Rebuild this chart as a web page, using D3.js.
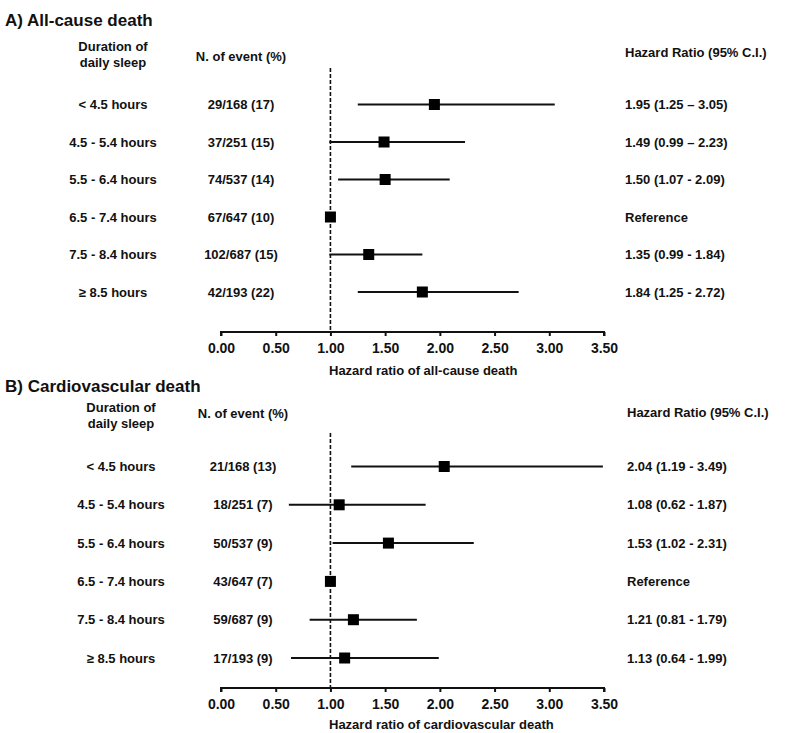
<!DOCTYPE html>
<html><head><meta charset="utf-8">
<script src="https://cdn.jsdelivr.net/npm/d3@7"></script>
<style>
html,body{margin:0;padding:0;background:#fff;}
svg text{font-family:"Liberation Sans",Arial,sans-serif;font-weight:bold;fill:#111;}
</style></head>
<body>
<svg id="chart" width="800" height="733"></svg>
<script>
const sleepCats = ["< 4.5 hours","4.5 - 5.4 hours","5.5 - 6.4 hours","6.5 - 7.4 hours","7.5 - 8.4 hours","≥ 8.5 hours"];
const tickValues = [0,0.5,1,1.5,2,2.5,3,3.5];

const allEvents = ["29/168 (17)","37/251 (15)","74/537 (14)","67/647 (10)","102/687 (15)","42/193 (22)"];
const allHR   = [1.95,1.49,1.50,1.00,1.35,1.84];
const allLow  = [1.25,0.99,1.07,null,0.99,1.25];
const allHigh = [3.05,2.23,2.09,null,1.84,2.72];
const allText = ["1.95 (1.25 – 3.05)","1.49 (0.99 – 2.23)","1.50 (1.07 - 2.09)","Reference","1.35 (0.99 - 1.84)","1.84 (1.25 - 2.72)"];

const cvEvents = ["21/168 (13)","18/251 (7)","50/537 (9)","43/647 (7)","59/687 (9)","17/193 (9)"];
const cvHR   = [2.04,1.08,1.53,1.00,1.21,1.13];
const cvLow  = [1.19,0.62,1.02,null,0.81,0.64];
const cvHigh = [3.49,1.87,2.31,null,1.79,1.99];
const cvText = ["2.04 (1.19 - 3.49)","1.08 (0.62 - 1.87)","1.53 (1.02 - 2.31)","Reference","1.21 (0.81 - 1.79)","1.13 (0.64 - 1.99)"];

const svg = d3.select("#chart");

function panel(o){
  const g = svg.append("g");
  const x = d3.scaleLinear().domain([0,3.5]).range([221,604]);
  const y = d3.scalePoint().domain(sleepCats).range(o.rowRange);
  const rows = sleepCats.map((c,i)=>({c, ev:o.events[i], hr:o.hr[i], lo:o.low[i], hi:o.high[i], t:o.text[i]}));

  g.append("text").attr("x",5).attr("y",o.titleY).attr("font-size",17).text(o.title);
  // headers
  g.append("text").attr("x",o.labX).attr("y",o.headY).attr("text-anchor","middle").attr("font-size",13).text("Duration of");
  g.append("text").attr("x",o.labX).attr("y",o.headY+16).attr("text-anchor","middle").attr("font-size",13).text("daily sleep");
  g.append("text").attr("x",o.evX).attr("y",o.evHeadY).attr("text-anchor","middle").attr("font-size",13).text("N. of event (%)");
  g.append("text").attr("x",o.hrX).attr("y",o.hrHeadY).attr("font-size",13).text("Hazard Ratio (95% C.I.)");

  // reference dashed line
  g.append("line").attr("x1",x(1)).attr("x2",x(1)).attr("y1",o.dashTop).attr("y2",o.axisY)
    .attr("stroke","#111").attr("stroke-width",1.6).attr("stroke-dasharray","4,2");

  const r = g.selectAll("g.row").data(rows).join("g").attr("class","row");
  r.append("text").attr("x",o.labX).attr("y",d=>y(d.c)).attr("dy","0.35em").attr("text-anchor","middle").attr("font-size",13).text(d=>d.c);
  r.append("text").attr("x",o.evX).attr("y",d=>y(d.c)).attr("dy","0.35em").attr("text-anchor","middle").attr("font-size",13).text(d=>d.ev);
  r.append("text").attr("x",o.hrX).attr("y",d=>y(d.c)).attr("dy","0.35em").attr("font-size",13).text(d=>d.t);
  r.filter(d=>d.lo!=null).append("line")
    .attr("x1",d=>x(d.lo)).attr("x2",d=>x(d.hi)).attr("y1",d=>y(d.c)).attr("y2",d=>y(d.c))
    .attr("stroke","#111").attr("stroke-width",2);
  const s = 11;
  r.append("rect").attr("x",d=>x(d.hr)-s/2).attr("y",d=>y(d.c)-s/2).attr("width",s).attr("height",s).attr("fill","#000");

  // axis
  const ax = g.append("g").attr("transform",`translate(0,${o.axisY})`)
    .call(d3.axisBottom(x).tickValues(tickValues).tickFormat(d3.format(".2f")).tickSize(4).tickPadding(7));
  ax.select(".domain").attr("stroke","#111").attr("stroke-width",2).attr("d",`M221,4V0H604V4`);
  ax.selectAll(".tick line").attr("stroke","#111").attr("stroke-width",2);
  ax.selectAll(".tick text").attr("font-size",14).attr("font-family",null).style("fill","#111");
  g.append("text").attr("x",329).attr("y",o.axisTitleY).attr("font-size",13).text(o.axisTitle);
}

panel({title:"A) All-cause death", titleY:26, labX:113, evX:241, hrX:625, headY:51, evHeadY:61, hrHeadY:57,
  rowRange:[104.5,292], dashTop:68, axisY:332, axisTitleY:375, axisTitle:"Hazard ratio of all-cause death",
  events:allEvents, hr:allHR, low:allLow, high:allHigh, text:allText});
panel({title:"B) Cardiovascular death", titleY:392, labX:121, evX:243, hrX:627, headY:412, evHeadY:418, hrHeadY:417,
  rowRange:[466.5,658], dashTop:433, axisY:688, axisTitleY:729, axisTitle:"Hazard ratio of cardiovascular death",
  events:cvEvents, hr:cvHR, low:cvLow, high:cvHigh, text:cvText});
</script>
</body></html>
